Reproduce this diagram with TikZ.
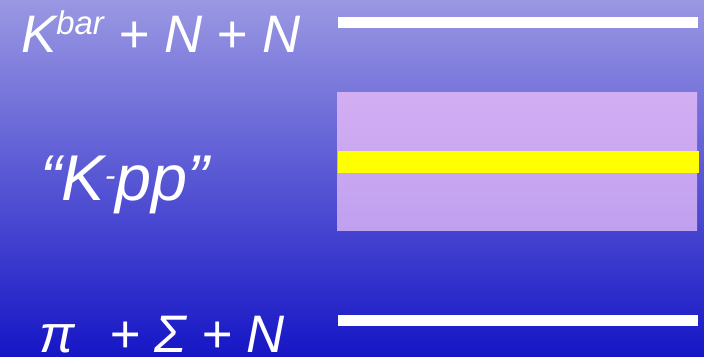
\documentclass[tikz,border=0pt]{standalone}
\usepackage{fontspec}
\setmainfont{Liberation Sans}
\usetikzlibrary{positioning}
\definecolor{bgtop}{HTML}{9A98E2}
\definecolor{bgmid}{HTML}{5050D8}
\definecolor{bgbot}{HTML}{1616C6}
\definecolor{lilactop}{HTML}{D2AEF2}
\definecolor{lilacbot}{HTML}{C0A0F0}
\definecolor{bandyellow}{HTML}{FFFF00}
\tikzset{
  level/.style={
    rectangle, fill=white, inner sep=0pt,
    minimum width=360bp, minimum height=11bp
  },
  statetxt/.style={
    text=white, inner sep=0pt, anchor=base west,
    font=\fontsize{53}{60}\selectfont\itshape
  },
  kppbox/.style={
    rectangle, inner sep=0pt, top color=lilactop, bottom color=lilacbot,
    minimum width=360bp, minimum height=138bp
  },
  kppline/.style={
    rectangle, fill=bandyellow, inner sep=0pt,
    minimum width=361bp, minimum height=22bp
  }
}
\newcommand{\supbar}[1]{\raisebox{18bp}{\fontsize{33}{33}\selectfont #1}}

\begin{document}
\begin{tikzpicture}[x=1bp, y=-1bp]
  \useasboundingbox (0,0) rectangle (704,356);
  \shade[top color=bgtop, middle color=bgmid, bottom color=bgbot]
    (0,0) rectangle (704,356);
  % levels on the right
  \node[level] (kbarnn) at (518,22.5) {};
  \node[kppbox] (band) at (517,161) {};
  \node[kppline] (kpp) at (518,162) {};
  \node[level] (pisn) at (518,320.5) {};
  % labels on the left
  \node[statetxt] (kbarlab) at (21,52)
    {K\supbar{bar} + N + N};
  \node[statetxt, font=\fontsize{65}{70}\selectfont\itshape] (kpplab) at (40,200)
    {“K\raisebox{14bp}{\fontsize{32}{32}\selectfont -}pp”};
  \node[statetxt] (pilab) at (39,352)
    {π\hspace{20bp} + Σ + N};
\end{tikzpicture}
\end{document}
